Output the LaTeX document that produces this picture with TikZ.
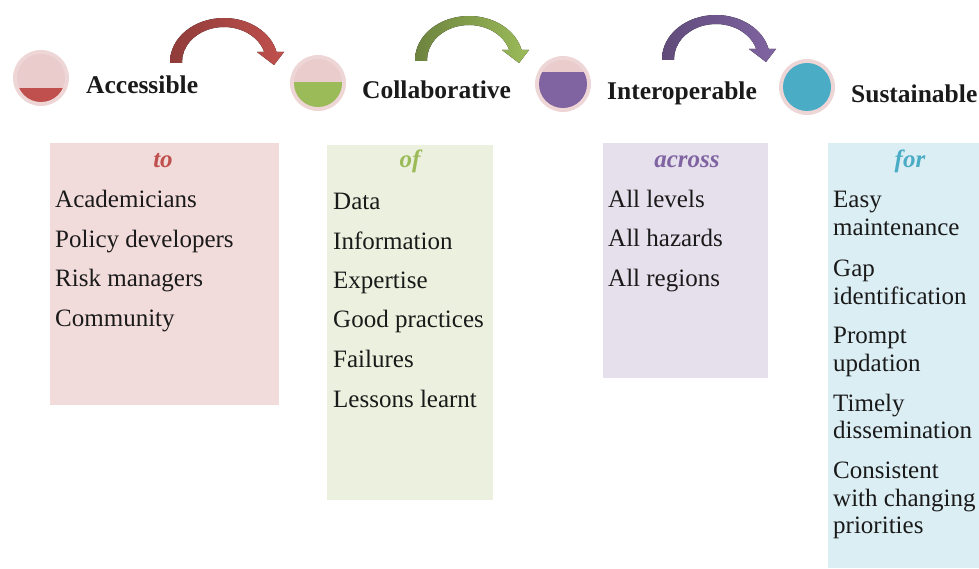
\documentclass[tikz,border=0pt]{standalone}
\usepackage{fontspec}
\setmainfont{Liberation Serif}
\definecolor{cred}{HTML}{C0504D}
\definecolor{cgreen}{HTML}{9BBB59}
\definecolor{cpurple}{HTML}{8064A2}
\definecolor{cteal}{HTML}{4BACC6}
\definecolor{bpink}{HTML}{F2DCDB}
\definecolor{bgreen}{HTML}{EBF1DE}
\definecolor{bpurple}{HTML}{E5E0EC}
\definecolor{bblue}{HTML}{DBEEF4}
\definecolor{ringc}{HTML}{EED6D6}
\definecolor{innerc}{HTML}{EACCCC}
\definecolor{txt}{HTML}{1A1A1A}
\begin{document}
\begin{tikzpicture}[x=1pt,y=-1pt,
  itemtxt/.style={anchor=base west, inner sep=0pt, text=txt, font=\fontsize{25}{29}\selectfont},
  headtxt/.style={anchor=base, inner sep=0pt, font=\fontsize{25}{29}\selectfont\bfseries\itshape},
  labeltxt/.style={anchor=base west, inner sep=0pt, text=txt, font=\fontsize{25.5}{29}\selectfont\bfseries},
  boxfill/.style={anchor=north west, inner sep=0pt, draw=none},
  dot/.style={circle, inner sep=0pt, minimum size=56pt, fill=ringc}]
\useasboundingbox (0,0) rectangle (979,569);
\fill[white] (0,0) rectangle (979,569);
\begin{scope}
\clip (0,0) rectangle (979,569);

% boxes
\node[boxfill, fill=bpink, minimum width=229pt, minimum height=262pt] (box1) at (50,143) {};
\node[boxfill, fill=bgreen, minimum width=166pt, minimum height=355pt] (box2) at (327,145) {};
\node[boxfill, fill=bpurple, minimum width=165pt, minimum height=235pt] (box3) at (603,143) {};
\node[boxfill, fill=bblue, minimum width=160pt, minimum height=425pt] (box4) at (828,143) {};

% circles
\node[dot] (c1) at (41,78) {};
\node[dot] (c2) at (318,83) {};
\node[dot] (c3) at (563,84) {};
\node[dot] (c4) at (807,87) {};
\fill[innerc] (c1.center) circle[radius=24pt];
\begin{scope}\clip (c1.center) circle[radius=24pt]; \fill[cred] (10,88) rectangle (72,110);\end{scope}
\fill[innerc] (c2.center) circle[radius=24pt];
\begin{scope}\clip (c2.center) circle[radius=24pt]; \fill[cgreen] (285,82) rectangle (350,115);\end{scope}
\fill[innerc] (c3.center) circle[radius=24pt];
\begin{scope}\clip (c3.center) circle[radius=24pt]; \fill[cpurple] (530,72) rectangle (600,115);\end{scope}
\fill[cteal] (c4.center) circle[radius=24pt];

% labels
\node[labeltxt] (l1) at (86,94) {Accessible};
\node[labeltxt] (l2) at (362,99) {Collaborative};
\node[labeltxt] (l3) at (607,100) {Interoperable};
\node[labeltxt] (l4) at (851,103) {Sustainable};

% curved arrows
\def\arrowpath{(170,63) -- (170,62) arc[start angle=180, end angle=13.14, x radius=54pt, y radius=44pt] -- (284,52) -- (274,65) -- (257,52) -- (264.25,52) arc[start angle=16.6, end angle=180, x radius=42pt, y radius=35pt] -- (182,63) -- cycle}
\fill[left color=cred!75!black, middle color=cred!85!white, right color=cred] \arrowpath;
\begin{scope}[xshift=245pt, yshift=2pt]
\fill[left color=cgreen!70!black, middle color=cgreen!85!white, right color=cgreen] \arrowpath;
\end{scope}
\begin{scope}[xshift=492pt, yshift=3pt]
\fill[left color=cpurple!75!black, middle color=cpurple!85!white, right color=cpurple] \arrowpath;
\end{scope}

% box 1
\node[headtxt, text=cred] (h1) at (163,168) {to};
\node[itemtxt] (a1) at (55,208) {Academicians};
\node[itemtxt] (a2) at (55,247.5) {Policy developers};
\node[itemtxt] (a3) at (55,287) {Risk managers};
\node[itemtxt] (a4) at (55,326) {Community};

% box 2
\node[headtxt, text=cgreen] (h2) at (410,168) {of};
\node[itemtxt] (b1) at (333,210) {Data};
\node[itemtxt] (b2) at (333,250) {Information};
\node[itemtxt] (b3) at (333,288.5) {Expertise};
\node[itemtxt] (b4) at (333,327.5) {Good practices};
\node[itemtxt] (b5) at (333,367) {Failures};
\node[itemtxt] (b6) at (333,407) {Lessons learnt};

% box 3
\node[headtxt, text=cpurple] (h3) at (687,168) {across};
\node[itemtxt] (d1) at (608,208) {All levels};
\node[itemtxt] (d2) at (608,247) {All hazards};
\node[itemtxt] (d3) at (608,287) {All regions};

% box 4
\node[headtxt, text=cteal] (h4) at (910,168) {for};
\node[itemtxt] (e1a) at (833,208) {Easy};
\node[itemtxt] (e1b) at (833,236) {maintenance};
\node[itemtxt] (e2a) at (833,276.5) {Gap};
\node[itemtxt] (e2b) at (833,304) {identification};
\node[itemtxt] (e3a) at (833,343) {Prompt};
\node[itemtxt] (e3b) at (833,371) {updation};
\node[itemtxt] (e4a) at (833,411.5) {Timely};
\node[itemtxt] (e4b) at (833,438.5) {dissemination};
\node[itemtxt] (e5a) at (833,478) {Consistent};
\node[itemtxt] (e5b) at (833,506) {with changing};
\node[itemtxt] (e5c) at (833,533) {priorities};
\end{scope}
\end{tikzpicture}
\end{document}
